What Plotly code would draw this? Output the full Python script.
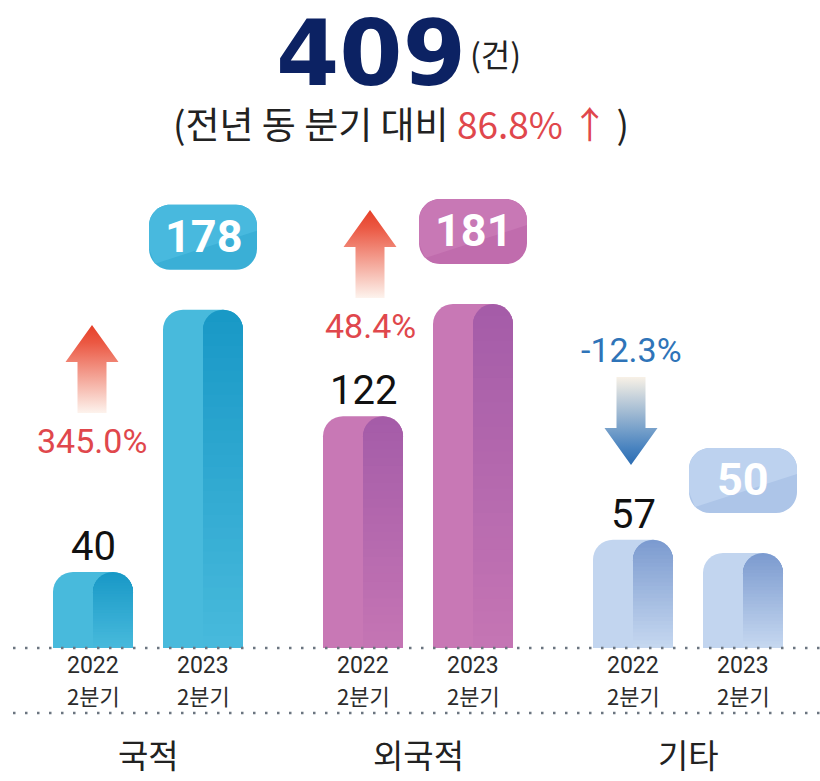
import plotly.graph_objects as go

# ---------------- data ----------------
categories = ["국적", "외국적", "기타"]
period_years = ["2022", "2023"]
period_quarter = "2분기"
values_2022 = [40, 122, 57]
values_2023 = [178, 181, 50]
unit_label = "(건)"

# derived labels
change_pct = [(b / a - 1) * 100 for a, b in zip(values_2022, values_2023)]
total_2023 = sum(values_2023)
total_change = (total_2023 / sum(values_2022) - 1) * 100

# ---------------- styling / layout constants ----------------
W, H = 820, 781
BASE_PX = 648            # pixel row of the baseline
YMAX = 341
X0_PX = 148              # pixel column of first category centre
PX_PER_CAT = 270
x_range = [-X0_PX / PX_PER_CAT, (W - X0_PX) / PX_PER_CAT]

BAR_W = 80 / PX_PER_CAT
HALF_W = 40 / PX_PER_CAT
OFF = 55 / PX_PER_CAT
RADIUS = 20
N_STEPS = 28

light = ["#48badc", "#c878b5", "#c2d5ef"]
dark_top = ["#1898c6", "#a45ca8", "#7b9acf"]
dark_bot = ["#48badc", "#c575b4", "#c6d8f0"]
box_col = ["#3aafd6", "#c06cad", "#adc5e8"]
box_gloss = ["#48b9de", "#c878b5", "#bdd2ef"]

UP_COL = "#e0474c"
DOWN_COL = "#2f74b8"
arrow_cx_px = [92, 370, 631]
arrow_top_px = [325, 210, 377]

HANGUL = "Noto Sans CJK KR"
NUM = "Roboto"


def hex2rgb(h):
    h = h.lstrip("#")
    return [int(h[i:i + 2], 16) for i in (0, 2, 4)]


def mix(c0, c1, t):
    a, b = hex2rgb(c0), hex2rgb(c1)
    return "rgb(%d,%d,%d)" % tuple(round(a[i] + (b[i] - a[i]) * t) for i in range(3))


fig = go.Figure()
xs = list(range(len(categories)))

# ---------------- bars ----------------
for vals, sign in [(values_2022, -1), (values_2023, 1)]:
    centre = sign * OFF
    fig.add_trace(go.Bar(
        x=xs, y=vals, width=BAR_W, offset=centre - BAR_W / 2,
        marker=dict(color=light, cornerradius=RADIUS, line_width=0),
        hoverinfo="skip", showlegend=False))
    for k in range(N_STEPS, 0, -1):
        t = (k - 0.5) / N_STEPS
        cols = [mix(dark_bot[i], dark_top[i], t) for i in range(len(xs))]
        fig.add_trace(go.Bar(
            x=xs, y=[v * k / N_STEPS for v in vals], width=HALF_W, offset=centre,
            marker=dict(color=cols, cornerradius=RADIUS, line_width=0),
            hoverinfo="skip", showlegend=False))

# ---------------- change arrows (pixel overlay axes) ----------------
annotations = []
for i, pct in enumerate(change_pct):
    cx, top = arrow_cx_px[i], arrow_top_px[i]
    total, head, hw, sw = 88, 37, 53, 29
    bottom = top + total
    ax_ = [cx, cx + hw / 2, cx + sw / 2, cx + sw / 2, cx - sw / 2, cx - sw / 2, cx - hw / 2, cx]
    if pct >= 0:
        ay_ = [top, top + head, top + head, bottom, bottom, top + head, top + head, top]
        grad = dict(type="vertical", start=top, stop=bottom,
                    colorscale=[[0, "#e63f28"], [0.2, "#eb5843"], [1, "#fdf3ed"]])
        txt_y = bottom + 28
        col = UP_COL
    else:
        ay_ = [bottom, bottom - head, bottom - head, top, top, bottom - head, bottom - head, bottom]
        grad = dict(type="vertical", start=top, stop=bottom,
                    colorscale=[[0, "#f8f1e6"], [0.8, "#4a84c0"], [1, "#2b6cb2"]])
        txt_y = top - 27
        col = DOWN_COL
    fig.add_trace(go.Scatter(
        x=ax_, y=ay_, xaxis="x2", yaxis="y2", mode="lines", fill="toself",
        line=dict(width=0, color="rgba(0,0,0,0)"), fillgradient=grad,
        hoverinfo="skip", showlegend=False))
    annotations.append(dict(
        x=cx, y=txt_y, xref="x2", yref="y2", text=f"{pct:.1f}%", showarrow=False,
        font=dict(family=NUM, size=34, color=col), xanchor="center", yanchor="middle"))

# ---------------- value labels ----------------
shapes = []
for i, v in enumerate(values_2022):
    annotations.append(dict(
        x=i - OFF, y=v, xref="x", yref="y", text=str(v), showarrow=False,
        font=dict(family=NUM, size=40, color="#111111"), yanchor="bottom", yshift=0))


def rrect(x0, y0, x1, y1, r):
    k = 0.4477 * r
    return (f"M{x0 + r},{y0} L{x1 - r},{y0} C{x1 - k},{y0} {x1},{y0 + k} {x1},{y0 + r} "
            f"L{x1},{y1 - r} C{x1},{y1 - k} {x1 - k},{y1} {x1 - r},{y1} "
            f"L{x0 + r},{y1} C{x0 + k},{y1} {x0},{y1 - k} {x0},{y1 - r} "
            f"L{x0},{y0 + r} C{x0},{y0 + k} {x0 + k},{y0} {x0 + r},{y0} Z")


def gloss(x0, y0, x1, y1, r):
    k = 0.4477 * r
    return (f"M{x0 + 6},{y0 + 6} L{x0},{y0 + r} L{x0},{y1 - r} "
            f"C{x0},{y1 - k} {x0 + k},{y1} {x0 + r},{y1} L{x1 - r},{y1} "
            f"C{x1 - k},{y1} {x1},{y1 - k} {x1},{y1 - r} L{x1},{y1 - 26} Z")


BX0, BX1, BY0, BY1, BR = -54, 54, 40, 105, 21
for i, v in enumerate(values_2023):
    common = dict(type="path", xref="x", yref="y", xsizemode="pixel", ysizemode="pixel",
                  xanchor=i + OFF, yanchor=v, line=dict(width=0), layer="above")
    shapes.append(dict(path=rrect(BX0, BY0, BX1, BY1, BR), fillcolor=box_col[i], **common))
    shapes.append(dict(path=gloss(BX0, BY0, BX1, BY1, BR), fillcolor=box_gloss[i], **common))
    annotations.append(dict(
        x=i + OFF, y=v, xref="x", yref="y", text=f"<b>{v}</b>", showarrow=False,
        font=dict(family=NUM, size=45, color="white"), yanchor="middle",
        yshift=(BY0 + BY1) / 2 + 1))


# ---------------- axis labels ----------------
def py(px):
    return (BASE_PX - px) / BASE_PX


for i in xs:
    for j, sign in enumerate([-1, 1]):
        annotations.append(dict(
            x=i + sign * OFF, y=py(666), xref="x", yref="paper", text=period_years[j],
            showarrow=False, font=dict(family=NUM, size=23, color="#2b2b2b"),
            xanchor="center", yanchor="middle"))
        annotations.append(dict(
            x=i + sign * OFF, y=py(695), xref="x", yref="paper", text=period_quarter,
            showarrow=False, font=dict(family=HANGUL, size=22, color="#2b2b2b"),
            xanchor="center", yanchor="middle"))
    annotations.append(dict(
        x=i, y=py(754), xref="x", yref="paper", text=categories[i], showarrow=False,
        font=dict(family=HANGUL, size=33, color="#222222"), xanchor="center", yanchor="middle"))

# dotted rule lines
for ypx in (BASE_PX, 713):
    shapes.append(dict(type="line", xref="paper", yref="paper", x0=13 / W, x1=1,
                       y0=py(ypx), y1=py(ypx),
                       line=dict(color="#6b7580", width=2.5, dash="2.5px,9.5px"), layer="above"))

# ---------------- headline ----------------
annotations.append(dict(
    x=371 / W, y=py(53), xref="paper", yref="paper", text=f"<b>{total_2023}</b>", showarrow=False,
    font=dict(family="DejaVu Sans", size=91, color="#0c2263"), xanchor="center", yanchor="middle"))
annotations.append(dict(
    x=468 / W, y=py(53), xref="paper", yref="paper", text=unit_label, showarrow=False,
    font=dict(family=HANGUL, size=32, color="#222222"), xanchor="left", yanchor="middle"))
annotations.append(dict(
    x=401 / W, y=py(123), xref="paper", yref="paper",
    text=f"(전년 동 분기 대비 <span style='color:{UP_COL}'>{total_change:.1f}% ↑</span> )",
    showarrow=False, font=dict(family=HANGUL, size=37, color="#222222"),
    xanchor="center", yanchor="middle"))

fig.update_layout(
    width=W, height=H, autosize=False,
    margin=dict(l=0, r=0, t=0, b=H - BASE_PX, pad=0),
    paper_bgcolor="white", plot_bgcolor="white",
    barmode="overlay", showlegend=False,
    xaxis=dict(range=x_range, visible=False, fixedrange=True),
    yaxis=dict(range=[0, YMAX], visible=False, fixedrange=True),
    xaxis2=dict(range=[0, W], overlaying="x", visible=False, fixedrange=True),
    yaxis2=dict(range=[BASE_PX, 0], overlaying="y", visible=False, fixedrange=True),
    shapes=shapes, annotations=annotations,
)

fig.write_html(
    "out.html",
    config={"displayModeBar": False},
    post_script="document.body.style.margin='0';document.body.style.overflow='hidden';",
)
